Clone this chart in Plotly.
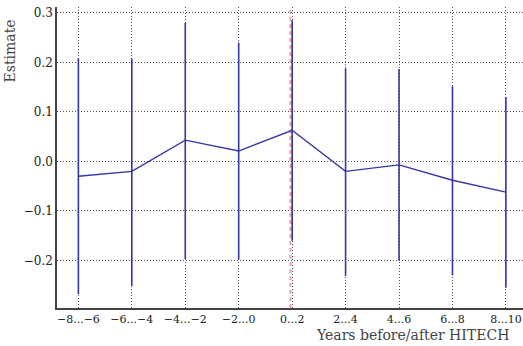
import plotly.graph_objects as go

categories = ["−8...−6", "−6...−4", "−4...−2", "−2...0", "0...2", "2...4", "4...6", "6...8", "8...10"]
estimate = [-0.030, -0.020, 0.043, 0.021, 0.063, -0.020, -0.007, -0.038, -0.062]
upper = [0.208, 0.207, 0.280, 0.240, 0.285, 0.188, 0.187, 0.152, 0.130]
lower = [-0.268, -0.251, -0.197, -0.198, -0.160, -0.231, -0.200, -0.230, -0.255]
ytick_vals = [-0.2, -0.1, 0.0, 0.1, 0.2, 0.3]
ytick_text = ["−0.2", "−0.1", "0.0", "0.1", "0.2", "0.3"]
event_pos = 3.97

xs = list(range(len(categories)))
err_plus = [u - e for u, e in zip(upper, estimate)]
err_minus = [e - l for e, l in zip(estimate, lower)]

blue = "#3535a8"
font = "DejaVu Serif"
xtickfont = dict(family="DejaVu Serif", size=11, color="#222222")
ytickfont = dict(family="DejaVu Serif", size=12, color="#222222")

fig = go.Figure()
fig.add_trace(go.Scatter(
    x=xs, y=estimate, mode="lines",
    line=dict(color=blue, width=1.4),
    error_y=dict(type="data", array=err_plus, arrayminus=err_minus,
                 color=blue, thickness=1.6, width=0),
    showlegend=False,
))

fig.add_shape(type="line", xref="x", yref="paper", x0=event_pos, x1=event_pos,
              y0=0, y1=1, line=dict(color="#e8a4a4", width=2, dash="4px,3px"), layer="below")

fig.update_layout(
    width=523, height=346,
    margin=dict(l=57, r=0, t=7, b=38),
    plot_bgcolor="white", paper_bgcolor="white",
    font=dict(family=font, size=11, color="#333333"),
    xaxis=dict(
        tickmode="array", tickvals=xs, ticktext=categories,
        range=[-0.4, 8.32],
        showgrid=True, gridcolor="#555555", griddash="1px,2px", gridwidth=1,
        showline=True, linecolor="#444444", linewidth=1.5,
        ticks="", zeroline=False, tickfont=xtickfont,
    ),
    yaxis=dict(
        tickmode="array", tickvals=ytick_vals, ticktext=ytick_text,
        range=[-0.296, 0.312],
        showgrid=True, gridcolor="#555555", griddash="1px,2px", gridwidth=1,
        showline=True, linecolor="#444444", linewidth=1.5,
        ticks="", zeroline=False, tickfont=ytickfont,
    ),
    annotations=[
        dict(text="Years before/after HITECH", xref="paper", yref="paper",
             x=0.975, y=-0.055, xanchor="right", yanchor="top", showarrow=False,
             font=dict(family=font, size=14, color="#444444")),
        dict(text="Estimate", xref="paper", yref="paper", textangle=-90,
             x=-0.1, xanchor="center", y=0.965, yanchor="top", showarrow=False,
             font=dict(family=font, size=14, color="#444444")),
    ],
)

fig.write_html("out.html")
